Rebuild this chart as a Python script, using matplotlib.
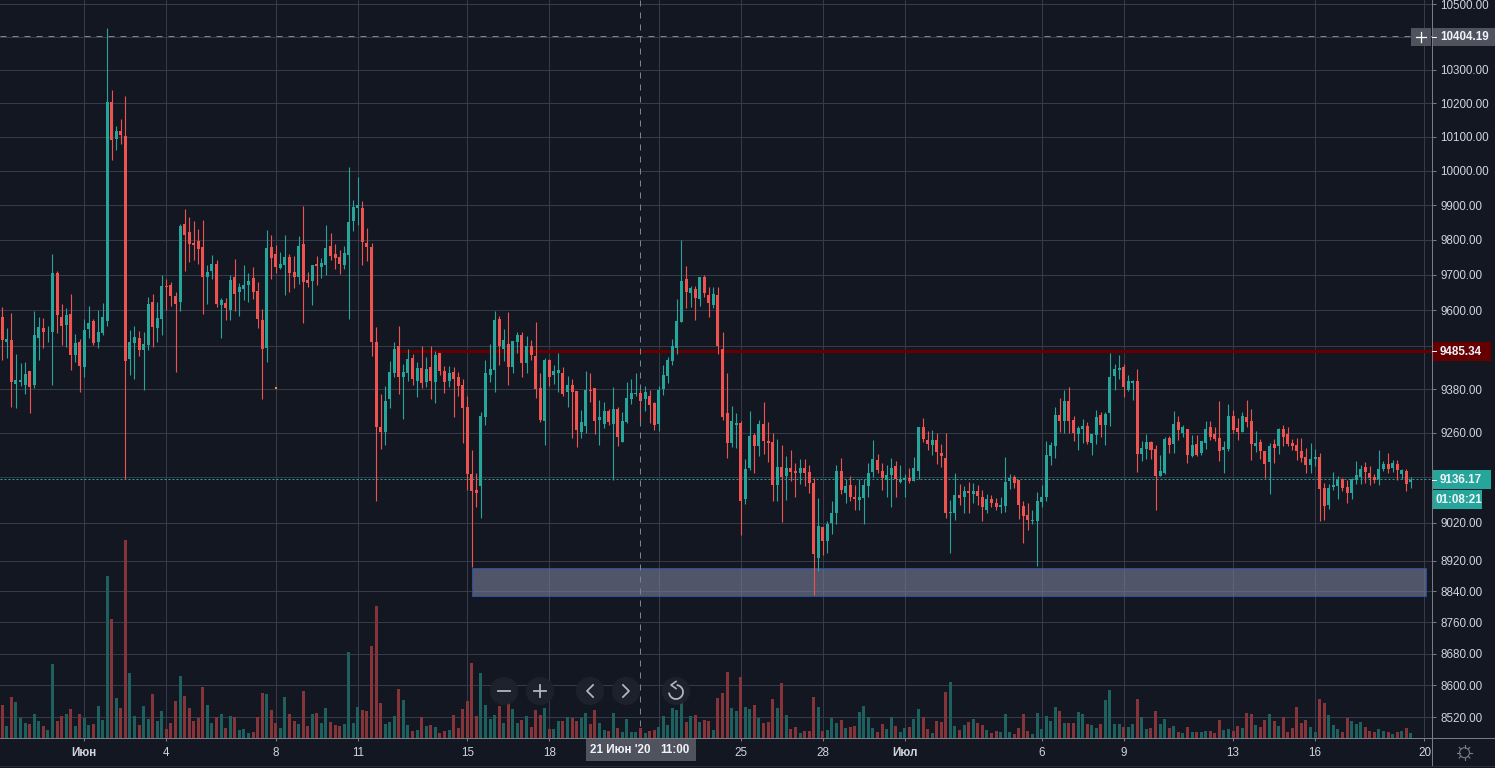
#!/usr/bin/env python3
import numpy as np
import pandas as pd
import matplotlib
matplotlib.use("Agg")
import matplotlib.pyplot as plt
import matplotlib.dates as mdates
from matplotlib.patches import Rectangle, Circle, Arc
from matplotlib.ticker import NullLocator

plt.rcParams['font.family'] = ['Liberation Sans', 'DejaVu Sans']

# 4h candles
opens = [
    9581,9511,9517,9394,9400,9391,9430,9391,9522,9550,
    9540,9539,9705,9581,9558,9589,9475,9511,9441,9547,
    9570,9511,9536,9570,10204,10095,10118,10103,9464,9508,
    9522,9489,9503,9623,9550,9575,9668,9671,9640,9623,
    9845,9822,9791,9796,9779,9694,9711,9731,9614,9620,
    9600,9694,9651,9660,9671,9691,9654,9572,9494,9779,
    9759,9719,9728,9751,9708,9694,9788,9685,9682,9731,
    9722,9728,9782,9759,9751,9728,9756,9854,9891,9891,
    9791,9779,9511,9276,9263,9354,9425,9498,9414,9425,
    9467,9403,9439,9400,9442,9400,9481,9431,9403,9428,
    9414,9392,9332,9150,9107,9116,9304,9420,9434,9576,
    9492,9506,9442,9509,9531,9453,9500,9472,9384,9293,
    9461,9420,9425,9425,9373,9392,9376,9263,9279,9378,
    9384,9296,9284,9320,9284,9326,9236,9290,9354,9366,
    9370,9354,9362,9343,9284,9381,9417,9458,9495,9567,
    9689,9649,9660,9631,9694,9643,9615,9643,9492,9315,
    9233,9282,9287,9083,9165,9255,9225,9285,9238,9236,
    9120,9168,9144,9165,9157,9152,9165,9155,9125,8928,
    9009,8970,9020,9046,9157,9099,9120,9088,9081,9086,
    9118,9155,9187,9157,9133,9147,9171,9128,9133,9139,
    9131,9157,9276,9241,9228,9241,9206,9192,9044,9046,
    9094,9088,9104,9096,9104,9088,9052,9083,9073,9060,
    9065,9131,9141,9133,9065,9041,9025,9025,9075,9088,
    9198,9225,9309,9293,9348,9296,9257,9271,9279,9233,
    9255,9309,9282,9315,9417,9433,9442,9378,9397,9403,
    9203,9217,9236,9217,9144,9152,9246,9230,9290,9260,
    9271,9198,9230,9206,9233,9276,9257,9246,9214,9217,
    9307,9274,9263,9304,9293,9225,9236,9211,9182,9230,
    9225,9271,9257,9233,9228,9211,9195,9173,9190,9195,
    9112,9067,9115,9118,9136,9115,9099,9133,9141,9168,
    9152,9141,9136,9163,9176,9165,9176,9149,9157,9128,
]
closes = [
    9517,9519,9400,9405,9405,9422,9386,9531,9553,9539,
    9542,9705,9586,9556,9586,9475,9508,9444,9544,9564,
    9508,9539,9581,10204,10091,10118,10106,9458,9511,9525,
    9489,9505,9617,9553,9578,9668,9665,9640,9617,9840,
    9814,9788,9785,9773,9694,9708,9731,9617,9629,9606,
    9685,9645,9665,9671,9682,9651,9575,9491,9776,9748,
    9722,9731,9751,9705,9694,9782,9679,9677,9728,9725,
    9733,9776,9753,9748,9731,9762,9851,9894,9900,9794,
    9779,9511,9276,9263,9348,9428,9492,9414,9428,9464,
    9409,9439,9398,9436,9403,9475,9431,9400,9425,9409,
    9389,9329,9150,9104,9098,9306,9425,9436,9573,9500,
    9517,9442,9514,9531,9453,9500,9475,9381,9296,9461,
    9414,9431,9434,9367,9392,9373,9268,9290,9378,9376,
    9293,9304,9320,9290,9326,9249,9293,9356,9370,9367,
    9348,9373,9337,9282,9378,9420,9461,9500,9570,9683,
    9652,9663,9634,9694,9649,9620,9646,9498,9304,9233,
    9293,9287,9078,9163,9252,9225,9285,9238,9233,9120,
    9168,9141,9165,9155,9152,9165,9152,9125,8936,9012,
    8970,9017,9044,9157,9107,9118,9088,9083,9088,9120,
    9152,9190,9160,9139,9147,9165,9136,9136,9139,9131,
    9165,9276,9244,9230,9241,9209,9198,9044,9049,9094,
    9086,9104,9099,9104,9091,9062,9083,9073,9062,9067,
    9128,9139,9125,9067,9038,9028,9028,9078,9088,9200,
    9228,9309,9293,9348,9293,9260,9274,9279,9236,9257,
    9304,9282,9312,9414,9436,9439,9386,9403,9403,9203,
    9219,9236,9214,9144,9157,9244,9228,9285,9268,9276,
    9200,9228,9200,9238,9271,9249,9244,9211,9222,9307,
    9268,9263,9307,9290,9230,9233,9211,9176,9225,9219,
    9271,9249,9230,9225,9211,9192,9173,9190,9195,9110,
    9065,9112,9120,9136,9112,9099,9136,9147,9163,9155,
    9139,9133,9163,9176,9163,9179,9160,9160,9123,9133,
]
highs = [
    9609,9550,9592,9478,9452,9455,9430,9598,9581,9578,
    9556,9759,9711,9617,9606,9645,9533,9519,9575,9612,
    9575,9600,9620,10427,10240,10132,10153,10222,9545,9556,
    9542,9539,9637,9645,9623,9699,9688,9679,9651,9845,
    9888,9865,9854,9831,9857,9728,9756,9742,9634,9634,
    9699,9745,9677,9728,9705,9722,9679,9603,9828,9814,
    9785,9765,9814,9759,9753,9811,9897,9708,9728,9753,
    9748,9842,9819,9788,9770,9782,10010,9915,9982,9912,
    9834,9791,9553,9367,9389,9458,9509,9556,9450,9490,
    9478,9456,9500,9470,9500,9486,9481,9445,9445,9442,
    9428,9409,9362,9214,9152,9317,9461,9506,9598,9584,
    9548,9595,9514,9539,9537,9528,9517,9567,9425,9467,
    9464,9447,9481,9442,9417,9409,9376,9323,9431,9423,
    9384,9351,9345,9326,9387,9332,9318,9400,9409,9423,
    9378,9389,9378,9345,9389,9447,9470,9520,9631,9799,
    9725,9669,9669,9694,9700,9666,9666,9666,9537,9423,
    9334,9315,9293,9190,9320,9260,9296,9345,9290,9260,
    9244,9228,9198,9214,9179,9190,9190,9173,9139,9086,
    9009,9025,9078,9173,9192,9136,9144,9120,9136,9136,
    9179,9241,9203,9179,9173,9192,9184,9173,9149,9165,
    9195,9276,9301,9266,9268,9260,9230,9260,9081,9152,
    9123,9118,9128,9125,9120,9107,9096,9094,9086,9088,
    9195,9149,9147,9133,9078,9073,9054,9102,9120,9238,
    9236,9331,9356,9378,9386,9307,9279,9298,9290,9257,
    9323,9317,9317,9481,9450,9475,9450,9419,9406,9436,
    9238,9257,9238,9228,9200,9249,9252,9320,9307,9282,
    9271,9255,9255,9238,9293,9293,9276,9348,9238,9340,
    9323,9301,9317,9350,9326,9266,9244,9211,9233,9244,
    9274,9282,9276,9244,9246,9246,9219,9233,9217,9206,
    9125,9123,9155,9144,9139,9133,9139,9184,9173,9182,
    9171,9149,9214,9184,9206,9187,9187,9163,9163,9141,
]
lows = [
    9461,9466,9331,9329,9389,9367,9314,9383,9461,9494,
    9511,9391,9536,9503,9497,9433,9455,9372,9413,9522,
    9503,9494,9531,9556,10032,10061,10079,9136,9419,9408,
    9472,9378,9489,9497,9511,9531,9600,9612,9427,9598,
    9710,9736,9742,9731,9589,9617,9688,9609,9522,9572,
    9572,9598,9584,9629,9623,9631,9550,9353,9455,9688,
    9705,9716,9643,9651,9662,9674,9564,9665,9614,9671,
    9691,9699,9742,9716,9702,9716,9575,9825,9842,9728,
    9739,9472,9078,9217,9228,9329,9414,9367,9298,9403,
    9392,9359,9384,9387,9354,9343,9420,9370,9387,9304,
    9362,9233,9107,8902,9062,9033,9282,9400,9373,9447,
    9458,9392,9425,9479,9414,9425,9461,9356,9290,9228,
    9389,9395,9373,9362,9331,9246,9222,9246,9260,9345,
    9257,9228,9274,9282,9133,9225,9236,9287,9340,9360,
    9293,9320,9287,9268,9265,9365,9398,9447,9476,9567,
    9606,9609,9571,9612,9637,9581,9606,9478,9296,9192,
    9222,9219,8988,9070,9160,9152,9198,9203,9182,9078,
    9078,9022,9081,9131,9088,9123,9118,9099,8830,8892,
    8934,8941,8991,9017,9096,9073,9078,9054,9052,9015,
    9088,9141,9152,9107,9088,9060,9088,9125,9088,9125,
    9131,9136,9236,9214,9201,9176,9168,9033,8939,9028,
    9067,9044,9046,9073,9067,9025,9046,9062,9054,9044,
    9049,9110,9112,9030,8967,8999,9017,8905,9060,9078,
    9173,9192,9262,9260,9260,9238,9214,9233,9230,9201,
    9230,9249,9228,9279,9378,9408,9359,9375,9350,9155,
    9184,9190,9190,9052,9144,9149,9206,9206,9241,9249,
    9179,9195,9198,9200,9217,9241,9238,9184,9152,9211,
    9260,9241,9263,9276,9187,9209,9190,9139,9096,9179,
    9203,9225,9225,9214,9187,9182,9152,9152,9171,9025,
    9028,9057,9107,9083,9104,9073,9083,9123,9123,9125,
    9120,9125,9120,9157,9152,9155,9133,9136,9104,9112,
]
# volume, relative units (the pane has no scale)
volumes = [
    97,34,121,106,58,43,40,70,49,34,
    22,220,49,64,70,85,34,70,58,37,
    40,94,52,484,355,118,88,592,193,64,
    37,94,55,130,49,79,25,43,109,184,
    124,88,49,58,151,97,43,61,70,28,
    64,61,22,25,13,16,61,133,130,82,
    43,28,121,70,49,40,139,34,70,73,
    43,88,46,37,34,40,256,43,91,82,
    79,274,394,103,40,46,64,145,112,37,
    19,22,61,34,37,31,13,19,22,67,
    28,85,109,223,64,193,97,55,67,94,
    43,106,85,43,52,64,31,82,67,88,
    25,25,49,49,61,58,49,58,73,40,
    82,43,22,19,73,28,16,55,16,16,
    28,13,19,22,31,64,37,88,82,121,
    46,64,67,46,52,49,22,118,133,196,
    88,79,181,91,85,97,58,43,46,115,
    88,163,67,25,31,13,19,19,121,91,
    19,22,58,43,52,28,31,34,76,94,
    61,28,16,40,25,61,34,16,28,31,
    55,85,61,25,13,49,46,136,166,34,
    22,37,46,55,43,37,22,13,19,16,
    70,16,10,28,70,19,10,73,25,64,
    49,91,79,43,43,43,76,70,40,37,
    28,40,112,142,40,40,31,31,40,115,
    61,25,28,79,40,55,28,34,16,13,
    31,16,16,16,19,19,13,52,22,25,
    19,34,28,73,70,37,31,52,70,49,
    34,61,16,28,91,43,52,31,16,115,
    103,67,37,25,16,58,49,40,46,31,
    19,16,25,19,16,10,16,19,28,13,
]

price_ticks = [10500, 10400, 10300, 10200, 10100, 10000, 9900, 9800, 9700, 9600,
               9500, 9380, 9260, 9140, 9020, 8920, 8840, 8760, 8680, 8600, 8520]
# these sit under the price labels, so they get a grid line but no text
hidden_prices = [10400, 9500, 9140]
date_ticks = ["2020-06-01", "2020-06-04", "2020-06-08", "2020-06-11", "2020-06-15",
              "2020-06-18", "2020-06-22", "2020-06-25", "2020-06-28", "2020-07-01",
              "2020-07-06", "2020-07-09", "2020-07-13", "2020-07-16", "2020-07-20"]
date_labels = ["Июн", "4", "8", "11", "15", "18", "", "25", "28", "Июл",
               "6", "9", "13", "16", "20"]

last_price = 9136.17
level_price = 9485.34
cross_price = 10404.19
cross_time = "2020-06-21 08:00"
zone_low, zone_high = 8828, 8900
zone_start, zone_end = "2020-06-15 04:00", "2020-07-20 01:00"
level_start = "2020-06-12 12:00"
dot_time, dot_price = "2020-06-08 00:00", 9383

BG = '#131722'
GRID = '#363a49'
UP = '#26a69a'
DOWN = '#ef5350'
VOL_UP = '#1d605e'
VOL_DOWN = '#853539'
TEXT = '#d1d4dc'
AXIS = '#787b86'
W, H = 1495, 768
PLOT_W, PLOT_H = 1431.5, 737.5
FS = 8.4

dates = pd.date_range("2020-05-29", periods=len(opens), freq="4h")
x = mdates.date2num(dates)
o, c, hi, lo = map(np.array, (opens, closes, highs, lows))
up = c >= o
day_px = 27.35

fig = plt.figure(figsize=(W / 100, H / 100), dpi=100, facecolor=BG)
ax = fig.add_axes([0, 1 - PLOT_H / H, PLOT_W / W, PLOT_H / H], facecolor=BG)
ax.set_yscale('log')

vol_ax = ax.twinx()
ax.yaxis.tick_right()
ax.set_ylim(8469, 10513.6)
ax.set_xlim(x[0] - 2.3 / day_px, x[0] + (PLOT_W - 2.3) / day_px)

# grid + axis
ax.set_yticks(price_ticks)
ax.set_yticklabels(["" if p in hidden_prices else f"{p:.2f}" for p in price_ticks])
ax.yaxis.set_minor_locator(NullLocator())
ax.set_xticks(mdates.date2num(pd.to_datetime(date_ticks)))
ax.set_xticklabels(date_labels)
ax.grid(True, color=GRID, linewidth=0.72, zorder=0)
ax.set_axisbelow(True)
ax.tick_params(axis='y', colors=TEXT, labelsize=FS, length=3, width=0.72, pad=3.6, color=AXIS)
ax.tick_params(axis='x', colors=TEXT, labelsize=FS, length=2.4, width=0.72, pad=4.6, color=AXIS)
for lab in ax.get_xticklabels():
    if lab.get_text() in ("Июн", "Июл"):
        lab.set_fontweight('bold')
for name, sp in ax.spines.items():
    sp.set_visible(name in ('right', 'bottom'))
    sp.set_color(AXIS)
    sp.set_linewidth(0.72)

# zone and level under the candles
zs, ze = mdates.date2num(pd.to_datetime([zone_start, zone_end]))
ax.add_patch(Rectangle((zs, zone_low), ze - zs, zone_high - zone_low,
                       facecolor=(0.48, 0.50, 0.60, 0.6), edgecolor='#2b4f9e',
                       linewidth=0.72, zorder=1.5))
ax.hlines(level_price, mdates.date2num(pd.Timestamp(level_start)), ax.get_xlim()[1],
          color='#660000', linewidth=2.3, zorder=1.6)

# candles
ax.vlines(x[up], lo[up], hi[up], color=UP, linewidth=0.8, zorder=3)
ax.vlines(x[~up], lo[~up], hi[~up], color=DOWN, linewidth=0.8, zorder=3)
body_w = 3.0 / day_px
ax.bar(x[up], np.maximum(c[up] - o[up], 2), bottom=o[up], width=body_w, color=UP, linewidth=0, zorder=3)
ax.bar(x[~up], np.maximum(o[~up] - c[~up], 2), bottom=c[~up], width=body_w, color=DOWN, linewidth=0, zorder=3)
ax.plot(mdates.date2num(pd.Timestamp(dot_time)), dot_price, 's', ms=1.6, color='#ff9800', mew=0, zorder=3)

# crosshair and last price line
ax.axhline(last_price, color=UP, linewidth=0.72, linestyle=(0, (2, 2)), zorder=2.5)
ax.axhline(cross_price, color='#758696', linewidth=0.72, linestyle=(0, (6, 6)), zorder=4)
ax.axvline(mdates.date2num(pd.Timestamp(cross_time)), color='#758696', linewidth=0.72,
           linestyle=(0, (6, 6)), zorder=4)

# volume pane
vol = np.array(volumes)
vol_ax.bar(x[up], vol[up], width=body_w, color=VOL_UP, linewidth=0)
vol_ax.bar(x[~up], vol[~up], width=body_w, color=VOL_DOWN, linewidth=0)
vol_ax.set_ylim(0, PLOT_H * 3)
vol_ax.set_yticks([])
for sp in vol_ax.spines.values():
    sp.set_visible(False)

# ui on top, in pixels
ov = fig.add_axes([0, 0, 1, 1], zorder=10)
ov.set_xlim(0, W)
ov.set_ylim(H, 0)
ov.axis('off')

ov.plot([PLOT_W, PLOT_W], [0, 765], color=AXIS, lw=0.72)
ov.plot([0, W], [PLOT_H, PLOT_H], color=AXIS, lw=0.72)
ov.plot([0, W], [765.5, 765.5], color='#2a2e39', lw=0.72)


def price_box(x0, x1, y0, y1, color, txt, tx):
    ov.add_patch(Rectangle((x0, y0), x1 - x0, y1 - y0, facecolor=color, edgecolor='none'))
    if txt:
        ov.text(tx, (y0 + y1) / 2 + 0.3, txt, color='#f0f3fa', fontsize=FS, fontweight='bold',
                ha='left', va='center')


price_box(1411, 1430.5, 28, 45.7, '#50535e', "", 1411)
ov.plot([1415.5, 1425.5], [36.5, 36.5], color='white', lw=0.9)
ov.plot([1420.5, 1420.5], [31.5, 41.5], color='white', lw=0.9)
price_box(PLOT_W, W, 28, 45.7, '#50535e', "10404.19", 1440)
price_box(PLOT_W, 1491, 342, 360.7, '#660000', "9485.34", 1440)
price_box(PLOT_W, 1491, 470, 489, UP, "9136.17", 1440)
price_box(PLOT_W, 1481.5, 490, 509, UP, "01:08:21", 1436)
for yy in (36.5, 351.3, 479.5):
    ov.plot([PLOT_W, 1435.5], [yy, yy], color='#f0f3fa', lw=0.72)

# crosshair time label
ov.add_patch(Rectangle((586, 737.5), 110, 23.3, facecolor='#50535e', edgecolor='none'))
ov.text(620.5, 750, "21 Июн '20", color='#f0f3fa', fontsize=FS, fontweight='bold', ha='center', va='center')
ov.text(675, 750, "11:00", color='#f0f3fa', fontsize=FS, fontweight='bold', ha='center', va='center')

# navigation buttons
ICON = '#b2b5be'
for bx in (504, 540, 590, 626, 676):
    ov.add_patch(Circle((bx, 691), 14, facecolor='#1e222d', edgecolor='none', alpha=0.97))
ov.plot([498, 510], [691, 691], color=ICON, lw=1.3)
ov.plot([534, 546], [691, 691], color=ICON, lw=1.3)
ov.plot([540, 540], [685, 697], color=ICON, lw=1.3)
ov.plot([593, 587, 593], [685, 691, 697], color=ICON, lw=1.3)
ov.plot([623, 629, 623], [685, 691, 697], color=ICON, lw=1.3)
ov.add_patch(Arc((676, 692), 14, 14, theta1=-85, theta2=175, color=ICON, lw=1.3))
ov.plot([676, 671, 676], [681.5, 685, 688.5], color=ICON, lw=1.2)

# settings icon
ov.add_patch(Circle((1464.5, 752.7), 5, facecolor='none', edgecolor=AXIS, lw=0.8))
for a in np.deg2rad(np.arange(0, 360, 45)):
    ov.plot([1464.5 + 5 * np.cos(a), 1464.5 + 7.5 * np.cos(a)],
            [752.7 + 5 * np.sin(a), 752.7 + 7.5 * np.sin(a)], color=AXIS, lw=0.8)

fig.savefig("out.png", dpi=100, facecolor=BG)
